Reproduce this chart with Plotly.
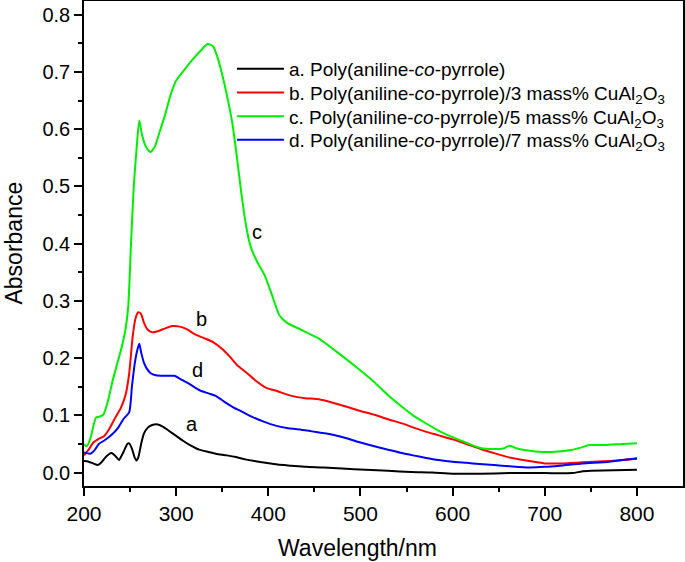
import plotly.graph_objects as go

# ---- data ----
wl_a = [200, 205, 210, 215, 219, 223, 227, 230, 234, 238, 241, 244, 247, 249, 252, 255, 257, 259,
        262, 265, 269, 274, 280, 286, 292, 300, 307, 315, 325, 335, 343, 355, 365, 375, 385, 397,
        410, 425, 441, 460, 480, 506, 530, 555, 578, 600, 630, 662, 700, 730, 740, 750, 775, 800]
abs_a = [0.020, 0.019, 0.016, 0.013, 0.018, 0.026, 0.032, 0.034, 0.029, 0.022, 0.030, 0.040, 0.050,
         0.051, 0.042, 0.026, 0.021, 0.027, 0.050, 0.068, 0.078, 0.083, 0.084, 0.080, 0.073, 0.064,
         0.056, 0.048, 0.040, 0.036, 0.033, 0.030, 0.027, 0.023, 0.020, 0.017, 0.014, 0.012, 0.010,
         0.009, 0.007, 0.005, 0.003, 0.001, 0.000, -0.002, -0.002, -0.001, -0.001, -0.001, 0.002,
         0.003, 0.004, 0.005]

wl_b = [200, 205, 210, 215, 222, 228, 234, 240, 245, 249, 253, 256, 259, 262, 265, 269, 274, 280,
        288, 296, 304, 312, 320, 330, 340, 350, 358, 366, 376, 386, 398, 410, 425, 440, 455, 470,
        485, 499, 515, 530, 545, 557, 570, 585, 600, 615, 629, 645, 660, 680, 700, 720, 741, 770, 800]
abs_b = [0.030, 0.040, 0.052, 0.058, 0.064, 0.078, 0.096, 0.113, 0.135, 0.173, 0.240, 0.270, 0.280,
         0.277, 0.262, 0.250, 0.245, 0.247, 0.252, 0.256, 0.255, 0.250, 0.242, 0.235, 0.228, 0.216,
         0.203, 0.188, 0.175, 0.161, 0.148, 0.142, 0.134, 0.130, 0.128, 0.122, 0.115, 0.108, 0.101,
         0.093, 0.086, 0.079, 0.072, 0.065, 0.058, 0.050, 0.042, 0.034, 0.027, 0.021, 0.016, 0.016,
         0.018, 0.020, 0.024]

wl_c = [200, 203, 207, 210, 213, 217, 221, 226, 231, 236, 241, 245, 248, 251, 254, 257, 260, 263,
        267, 272, 277, 282, 288, 294, 300, 308, 318, 327, 334, 340, 345, 350, 355, 361, 366, 371,
        376, 381, 388, 396, 404, 412, 420, 435, 455, 475, 495, 513, 530, 545, 557, 570, 585, 600,
        615, 630, 645, 655, 662, 668, 680, 698, 715, 730, 740, 748, 765, 785, 800]
abs_c = [0.050, 0.046, 0.060, 0.080, 0.096, 0.098, 0.101, 0.125, 0.160, 0.190, 0.220, 0.250, 0.290,
         0.400, 0.500, 0.565, 0.615, 0.590, 0.570, 0.560, 0.570, 0.595, 0.625, 0.660, 0.685, 0.702,
         0.722, 0.738, 0.749, 0.745, 0.725, 0.695, 0.660, 0.610, 0.550, 0.485, 0.430, 0.394, 0.368,
         0.345, 0.310, 0.275, 0.262, 0.250, 0.234, 0.210, 0.185, 0.161, 0.135, 0.115, 0.100, 0.087,
         0.073, 0.062, 0.052, 0.043, 0.041, 0.042, 0.047, 0.043, 0.039, 0.036, 0.037, 0.040, 0.044,
         0.048, 0.048, 0.050, 0.051]

wl_d = [200, 207, 212, 216, 222, 230, 237, 243, 249, 252, 255, 258, 260, 262, 265, 268, 272, 278,
        288, 298, 305, 312, 320, 328, 336, 343, 352, 362, 372, 383, 395, 408, 420, 440, 455, 470,
        485, 499, 515, 530, 545, 557, 570, 585, 600, 615, 629, 645, 662, 683, 700, 716, 741, 770, 800]
abs_d = [0.035, 0.033, 0.040, 0.050, 0.056, 0.066, 0.078, 0.094, 0.105, 0.150, 0.190, 0.215, 0.225,
         0.210, 0.192, 0.182, 0.174, 0.170, 0.169, 0.169, 0.163, 0.157, 0.149, 0.142, 0.138, 0.134,
         0.124, 0.114, 0.106, 0.097, 0.089, 0.082, 0.078, 0.074, 0.070, 0.066, 0.060, 0.053, 0.046,
         0.040, 0.034, 0.030, 0.026, 0.022, 0.019, 0.017, 0.015, 0.013, 0.011, 0.009, 0.010, 0.012,
         0.016, 0.019, 0.025]

series_names = [
    "a. Poly(aniline-<i>co</i>-pyrrole)",
    "b. Poly(aniline-<i>co</i>-pyrrole)/3 mass% CuAl<sub>2</sub>O<sub>3</sub>",
    "c. Poly(aniline-<i>co</i>-pyrrole)/5 mass% CuAl<sub>2</sub>O<sub>3</sub>",
    "d. Poly(aniline-<i>co</i>-pyrrole)/7 mass% CuAl<sub>2</sub>O<sub>3</sub>",
]
series_colors = ["#000000", "#ff0000", "#00ee00", "#0000ff"]

curve_labels = ["a", "b", "c", "d"]
label_x = [317, 328, 388, 323]
label_y = [0.085, 0.268, 0.421, 0.179]

x_ticks = [200, 300, 400, 500, 600, 700, 800]
x_minor = [250, 350, 450, 550, 650, 750]
y_ticks = [0.0, 0.1, 0.2, 0.3, 0.4, 0.5, 0.6, 0.7, 0.8]
y_ticktext = ["0.0", "0.1", "0.2", "0.3", "0.4", "0.5", "0.6", "0.7", "0.8"]
y_minor = [0.05, 0.15, 0.25, 0.35, 0.45, 0.55, 0.65, 0.75]

FONT = "Liberation Sans, Arial, Helvetica, sans-serif"

PLOT_TOP, PLOT_BOTTOM = 1, 486
legend_rows_px = [69, 92.7, 116.3, 140]   # legend row centres (pixels from top)
legend_ids = ["legend", "legend2", "legend3", "legend4"]

fig = go.Figure()
for wl, ab, name, col, lid in zip([wl_a, wl_b, wl_c, wl_d], [abs_a, abs_b, abs_c, abs_d],
                                  series_names, series_colors, legend_ids):
    fig.add_trace(go.Scatter(x=wl, y=ab, mode="lines", name=name, legend=lid,
                             line=dict(color=col, width=2, shape="spline", smoothing=0.6)))

for t, lx, ly in zip(curve_labels, label_x, label_y):
    fig.add_annotation(x=lx, y=ly, xref="x", yref="y", text=t, showarrow=False,
                       font=dict(family=FONT, size=20, color="black"))

fig.add_annotation(x=497, y=-0.128, xref="x", yref="paper", text="Wavelength/nm",
                   showarrow=False, yanchor="middle",
                   font=dict(family=FONT, size=23, color="black"))
fig.add_annotation(x=-0.1185, y=0.5, xref="paper", yref="paper", text="Absorbance",
                   showarrow=False, textangle=-90, xanchor="center", yanchor="middle",
                   font=dict(family=FONT, size=23, color="black"))

legend_common = dict(x=0.247, xanchor="left", yanchor="middle",
                     bgcolor="rgba(0,0,0,0)", borderwidth=0,
                     font=dict(family=FONT, size=19, color="black"),
                     itemwidth=47)
legend_layout = {}
for lid, rp in zip(legend_ids, legend_rows_px):
    ypaper = (PLOT_BOTTOM - rp) / (PLOT_BOTTOM - PLOT_TOP)
    legend_layout[lid] = dict(legend_common, y=ypaper)

fig.update_layout(
    width=685, height=562,
    margin=dict(l=84, r=2, t=1, b=76, autoexpand=False),
    paper_bgcolor="white", plot_bgcolor="white",
    font=dict(family=FONT, color="black"),
    showlegend=True,
    xaxis=dict(range=[200, 850], showgrid=False, zeroline=False, automargin=False,
               showline=True, linecolor="black", linewidth=1.5, mirror=True,
               tickmode="array", tickvals=x_ticks, ticks="outside", ticklen=8,
               tickwidth=1.5, tickcolor="black",
               tickfont=dict(family=FONT, size=21, color="black"),
               minor=dict(tickmode="array", tickvals=x_minor, ticks="outside",
                          ticklen=4, tickwidth=1.5, tickcolor="black", showgrid=False)),
    yaxis=dict(range=[-0.0235, 0.824], showgrid=False, zeroline=False, automargin=False,
               showline=True, linecolor="black", linewidth=1.5, mirror=True,
               tickmode="array", tickvals=y_ticks, ticktext=y_ticktext,
               ticks="outside", ticklen=8, tickwidth=1.5, tickcolor="black",
               tickfont=dict(family=FONT, size=20, color="black"),
               minor=dict(tickmode="array", tickvals=y_minor, ticks="outside",
                          ticklen=4, tickwidth=1.5, tickcolor="black", showgrid=False)),
    **legend_layout,
)

fig.write_html("out.html", config={"displayModeBar": False},
               post_script="document.body.style.margin='0px';")
